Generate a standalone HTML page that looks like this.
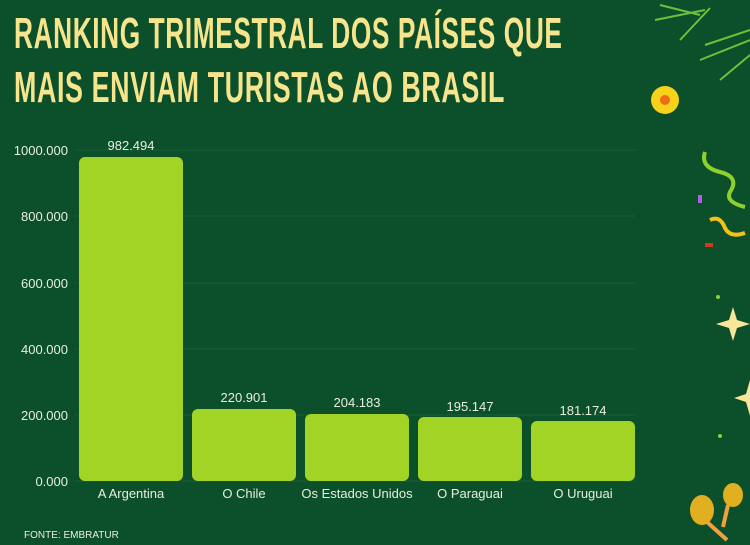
<!DOCTYPE html>
<html><head><meta charset="utf-8"><style>
body{margin:0;width:750px;height:545px;background:#0c4f2b;overflow:hidden;font-family:"Liberation Sans",sans-serif;position:relative}
.t{position:absolute;left:14px;color:#f6e58c;font-weight:bold;font-size:44px;letter-spacing:1px;transform-origin:0 0;white-space:nowrap;line-height:1}
</style></head><body>
<div class="t" style="top:12px;transform:scale(0.597,1)">RANKING TRIMESTRAL DOS PAÍSES QUE</div>
<div class="t" style="top:66px;transform:scale(0.61,1)">MAIS ENVIAM TURISTAS AO BRASIL</div>
<svg width="750" height="545" style="position:absolute;left:0;top:0" font-family="Liberation Sans, sans-serif">
<g stroke="#1a5c36" stroke-width="1">
<line x1="75" x2="635" y1="150" y2="150"/><line x1="75" x2="635" y1="216" y2="216"/><line x1="75" x2="635" y1="283" y2="283"/><line x1="75" x2="635" y1="349" y2="349"/><line x1="75" x2="635" y1="415" y2="415"/><line x1="75" x2="635" y1="481" y2="481"/></g>
<g fill="#e8f0d8" font-size="13" text-anchor="end">
<text x="68" y="155">1000.000</text><text x="68" y="221">800.000</text><text x="68" y="288">600.000</text><text x="68" y="354">400.000</text><text x="68" y="420">200.000</text><text x="68" y="486">0.000</text></g>
<g fill="#a2d425">
<rect x="79" y="157" width="104" height="324" rx="6"/>
<rect x="192" y="409" width="104" height="72" rx="6"/>
<rect x="305" y="414" width="104" height="67" rx="6"/>
<rect x="418" y="417" width="104" height="64" rx="6"/>
<rect x="531" y="421" width="104" height="60" rx="6"/></g>
<g fill="#e8f0d8" font-size="13" text-anchor="middle">
<text x="131" y="150">982.494</text><text x="244" y="402">220.901</text><text x="357" y="407">204.183</text><text x="470" y="411">195.147</text><text x="583" y="415">181.174</text>
<text x="131" y="498">A Argentina</text><text x="244" y="498">O Chile</text><text x="357" y="498">Os Estados Unidos</text><text x="470" y="498">O Paraguai</text><text x="583" y="498">O Uruguai</text></g>
<text x="24" y="538" fill="#e8f0d8" font-size="10">FONTE: EMBRATUR</text>
<g stroke="#6cc23a" stroke-width="2" fill="none"><path d="M655 20 L705 10 M660 5 L700 15 M680 40 L710 8 M700 60 L750 40 M720 80 L750 55 M705 45 L750 30"/></g>
<circle cx="665" cy="100" r="14" fill="#f6d21a"/><circle cx="665" cy="100" r="5" fill="#f06a1a"/>
<path d="M705 152 q-5 15 15 20 q20 5 10 20 q-5 10 15 15" stroke="#8ed02c" stroke-width="4" fill="none"/>
<path d="M710 220 q10 -5 15 8 q5 10 20 5" stroke="#f2c21a" stroke-width="4" fill="none"/>
<rect x="698" y="195" width="4" height="8" fill="#b060e0"/><rect x="705" y="243" width="8" height="4" fill="#d03a1a"/>
<path d="M733 307 l4 13 l13 4 l-13 4 l-4 13 l-4 -13 l-13 -4 l13 -4z" fill="#f8e69a"/>
<path d="M750 380 l-4 14 l-12 4 l12 4 l4 14z" fill="#f8e69a"/>
<circle cx="718" cy="297" r="2" fill="#8ed02c"/><circle cx="720" cy="436" r="2" fill="#8ed02c"/>
<ellipse cx="702" cy="510" rx="12" ry="15" fill="#e0b020"/><ellipse cx="733" cy="495" rx="10" ry="12" fill="#e0b020"/>
<path d="M707 522 l20 18 M728 505 l-5 22" stroke="#f0a040" stroke-width="4"/>
</svg>
</body></html>
